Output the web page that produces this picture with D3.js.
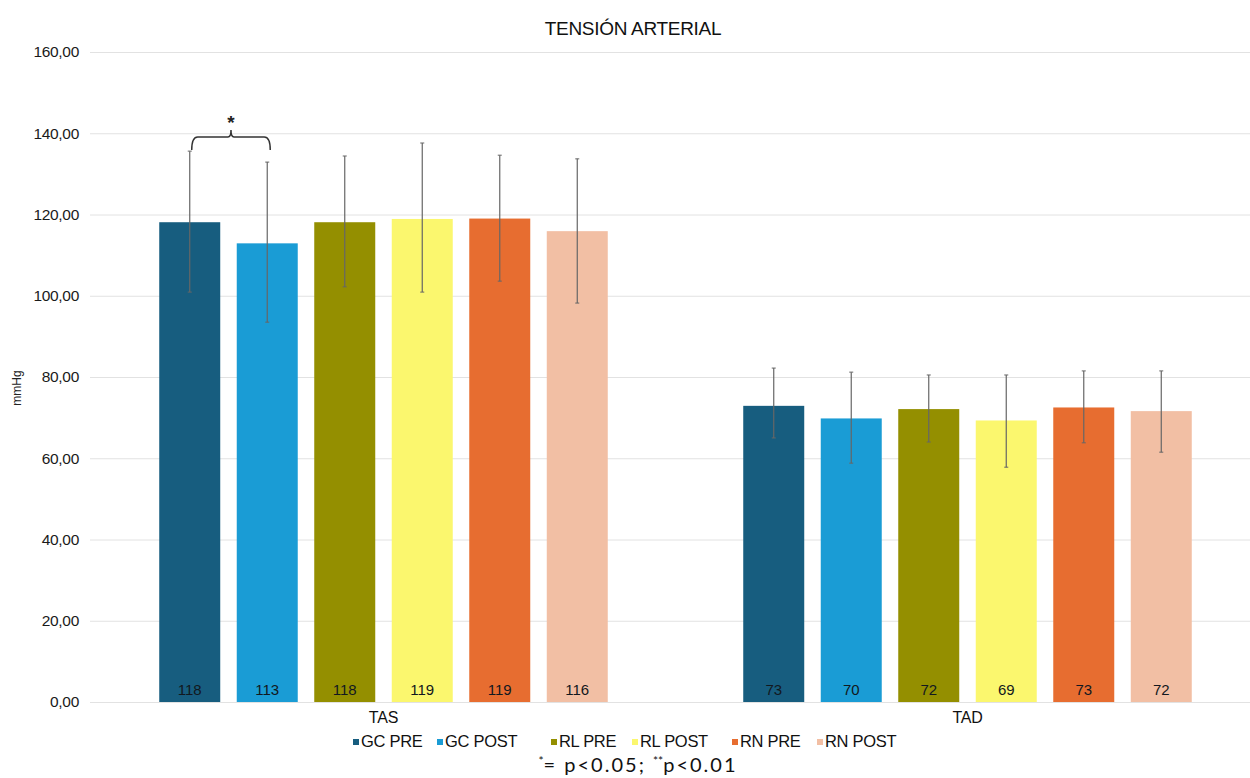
<!DOCTYPE html>
<html>
<head>
<meta charset="utf-8">
<script src="https://cdn.jsdelivr.net/npm/d3@7"></script>
<style>
  html, body { margin: 0; padding: 0; background: #fff; }
  svg { display: block; font-family: "Liberation Sans", Arial, sans-serif; }
</style>
</head>
<body>
<script>
// categories and series
var categories = ["TAS", "TAD"]
var series = ["GC PRE", "GC POST", "RL PRE", "RL POST", "RN PRE", "RN POST"]
var colors = ["#175d7f", "#1a9cd5", "#948f00", "#fbf76e", "#e76d30", "#f2bfa4"]

// means, one array per category (order follows series)
var tasValues = [118.1, 112.9, 118.1, 118.9, 119.0, 115.9]
var tadValues = [72.9, 69.8, 72.1, 69.3, 72.5, 71.6]

// error bar ends
var tasHigh = [135.6, 132.9, 134.4, 137.6, 134.6, 133.7]
var tasLow  = [100.9, 93.5, 102.2, 100.9, 103.6, 98.2]
var tadHigh = [82.2, 81.2, 80.5, 80.5, 81.5, 81.5]
var tadLow  = [65.0, 58.8, 64.0, 57.8, 63.8, 61.5]

var yTicks = [0, 20, 40, 60, 80, 100, 120, 140, 160]

var width = 1250, height = 778

var rows = []
categories.forEach(function(c, ci) {
  var vals = ci === 0 ? tasValues : tadValues
  var hi = ci === 0 ? tasHigh : tadHigh
  var lo = ci === 0 ? tasLow : tadLow
  series.forEach(function(s, si) {
    rows.push({ cat: c, name: s, value: vals[si], hi: hi[si], lo: lo[si], color: colors[si] })
  })
})

var svg = d3.select("body").append("svg")
  .attr("width", width)
  .attr("height", height)

var y = d3.scaleLinear().domain([0, 160]).range([702, 52])
var x0 = d3.scaleBand().domain(categories).range([91.5, 1259.5])
var x1 = d3.scaleBand().domain(series).range([0, x0.bandwidth()])
  .paddingInner(0.213).paddingOuter(0.874)

// gridlines + tick labels
var fmt = function(d) { return d3.format(".2f")(d).replace(".", ",") }
svg.append("g")
  .attr("transform", "translate(90,0)")
  .call(d3.axisLeft(y).tickValues(yTicks).tickFormat(fmt).tickSize(-1160).tickPadding(11))
  .call(function(g) {
    g.select(".domain").remove()
    g.selectAll(".tick line").attr("stroke", "#e2e2e2")
    g.selectAll(".tick text").attr("fill", "#1a1a1a").style("font-size", "15.5px")
      .style("letter-spacing", "-0.3px")
      .style("font-family", "'Liberation Sans', Arial, sans-serif")
  })

// title
svg.append("text")
  .attr("x", 633).attr("y", 35)
  .attr("text-anchor", "middle")
  .style("font-size", "19px")
  .style("letter-spacing", "-0.3px")
  .attr("fill", "#111")
  .text("TENSIÓN ARTERIAL")

// y axis title
svg.append("text")
  .attr("transform", "translate(21,388) rotate(-90)")
  .attr("text-anchor", "middle")
  .style("font-size", "12px")
  .attr("fill", "#222")
  .text("mmHg")

// bars
var groups = svg.selectAll("g.cat")
  .data(rows)
  .enter().append("g")
  .attr("class", "cat")
  .attr("transform", function(d) { return "translate(" + (x0(d.cat) + x1(d.name)) + ",0)" })

groups.append("rect")
  .attr("x", 0)
  .attr("width", x1.bandwidth())
  .attr("y", function(d) { return y(d.value) })
  .attr("height", function(d) { return y(0) - y(d.value) })
  .attr("fill", function(d) { return d.color })

// error bars
var cx = x1.bandwidth() / 2
groups.append("line")
  .attr("x1", cx).attr("x2", cx)
  .attr("y1", function(d) { return y(d.hi) })
  .attr("y2", function(d) { return y(d.lo) })
  .attr("stroke", "#666").attr("stroke-width", 1.2)
groups.append("line")
  .attr("x1", cx - 2).attr("x2", cx + 2)
  .attr("y1", function(d) { return y(d.hi) })
  .attr("y2", function(d) { return y(d.hi) })
  .attr("stroke", "#666")
groups.append("line")
  .attr("x1", cx - 2).attr("x2", cx + 2)
  .attr("y1", function(d) { return y(d.lo) })
  .attr("y2", function(d) { return y(d.lo) })
  .attr("stroke", "#666")

// value labels
groups.append("text")
  .attr("x", cx)
  .attr("y", y(0) - 7)
  .attr("text-anchor", "middle")
  .style("font-size", "15px")
  .attr("fill", "#121820")
  .text(function(d) { return Math.round(d.value) })

// category labels
svg.selectAll("text.catlab")
  .data(categories)
  .enter().append("text")
  .attr("class", "catlab")
  .attr("x", function(d) { return x0(d) + x0.bandwidth() / 2 })
  .attr("y", 723)
  .attr("text-anchor", "middle")
  .style("font-size", "16px")
  .style("letter-spacing", "-0.2px")
  .attr("fill", "#111")
  .text(function(d) { return d })

// legend
var legendX = [353, 437, 551, 632, 732, 817]
var legend = svg.selectAll("g.leg")
  .data(series)
  .enter().append("g")
  .attr("class", "leg")
  .attr("transform", function(d, i) { return "translate(" + legendX[i] + ",741)" })
legend.append("rect")
  .attr("x", 0).attr("y", -2).attr("width", 6).attr("height", 6)
  .attr("fill", function(d, i) { return colors[i] })
legend.append("text")
  .attr("x", 8).attr("y", 6)
  .style("font-size", "16.5px")
  .style("letter-spacing", "-0.3px")
  .attr("fill", "#111")
  .text(function(d) { return d })

// significance bracket between GC PRE and GC POST (TAS)
var bx1 = x0("TAS") + x1("GC PRE") + cx + 2
var bx2 = x0("TAS") + x1("GC POST") + cx + 3
var bm = (bx1 + bx2) / 2
var by = 137
var brace = d3.path()
brace.moveTo(bx1, by + 13)
brace.quadraticCurveTo(bx1, by, bx1 + 6, by)
brace.lineTo(bm - 3, by)
brace.quadraticCurveTo(bm, by, bm, by - 7)
brace.quadraticCurveTo(bm, by, bm + 3, by)
brace.lineTo(bx2 - 6, by)
brace.quadraticCurveTo(bx2, by, bx2, by + 13)
svg.append("path")
  .attr("d", brace.toString())
  .attr("fill", "none")
  .attr("stroke", "#333")
  .attr("stroke-width", 1.5)
svg.append("text")
  .attr("x", bm).attr("y", 129)
  .attr("text-anchor", "middle")
  .style("font-size", "19px")
  .style("font-weight", "bold")
  .attr("fill", "#222")
  .text("*")

// footnote
var foot = svg.append("text")
  .attr("x", 638).attr("y", 772)
  .attr("text-anchor", "middle")
  .style("font-family", "Lato, 'Open Sans', sans-serif")
  .style("font-size", "20px")
  .style("letter-spacing", "2px")
  .attr("fill", "#111")
foot.append("tspan").attr("dy", -7).style("font-size", "12px").style("letter-spacing", "0px").text("*")
foot.append("tspan").attr("dy", 7).text("= p<0.05; ")
foot.append("tspan").attr("dy", -7).style("font-size", "12px").style("letter-spacing", "0px").text("**")
foot.append("tspan").attr("dy", 7).text("p<0.01")
</script>
</body>
</html>
